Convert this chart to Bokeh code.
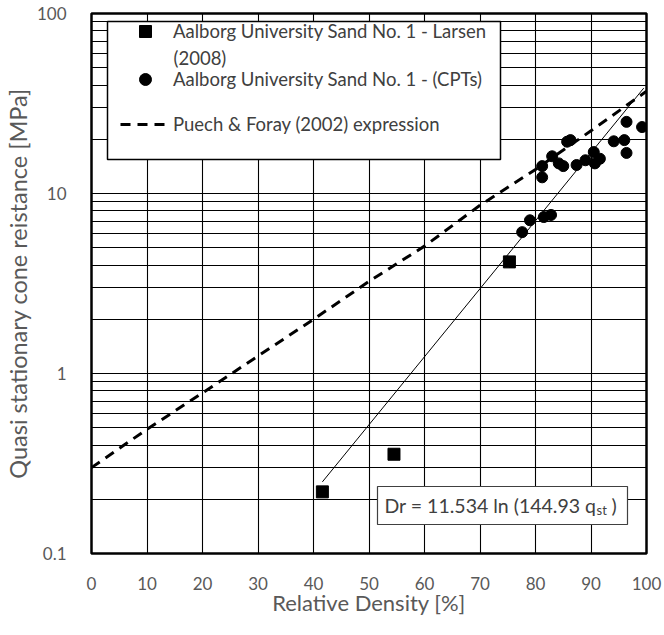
from bokeh.plotting import figure
from bokeh.models import Range1d, FixedTicker, Legend, LegendItem, Label, BoxAnnotation
from bokeh.embed import file_html
from bokeh.resources import INLINE

# ---- data ----
larsen_dr = [41.6, 54.5, 75.3]
larsen_qst = [0.22, 0.356, 4.17]

cpt_dr = [77.6, 79.0, 81.5, 82.8, 81.2, 81.2, 83.0, 84.2, 85.0, 85.7, 86.3,
          87.4, 89.0, 90.5, 90.7, 91.6, 94.1, 96.0, 96.4, 96.4, 99.2]
cpt_qst = [6.1, 7.1, 7.4, 7.6, 12.3, 14.2, 16.1, 14.7, 14.2, 19.4, 19.8,
           14.4, 15.3, 17.0, 14.7, 15.6, 19.5, 19.8, 25.0, 16.8, 23.4]

puech_dr = [0, 10, 20, 30, 40, 50, 60, 70, 80, 90, 100]
puech_qst = [0.30, 0.49, 0.78, 1.25, 2.0, 3.25, 5.1, 8.6, 13.6, 22.3, 37.0]

trend_dr = [41.6, 99.5]
trend_qst = [0.25, 38.5]

x_ticks = [0, 10, 20, 30, 40, 50, 60, 70, 80, 90, 100]
y_ticks = [0.1, 1, 10, 100]
y_tick_labels = ["0.1", "1", "10", "100"]

label_larsen = "Aalborg University Sand No. 1 - Larsen"
label_larsen2 = "(2008)"
label_cpt = "Aalborg University Sand No. 1 - (CPTs)"
label_puech = "Puech & Foray (2002) expression"
eq_main = "Dr = 11.534 ln (144.93 q"
eq_sub = "st"
eq_end = ")"

FONT = "Lato"
TICK_COLOR = "#595959"
TEXT_COLOR = "#404040"

W, H = 664, 635
FL, FR, FT, FB = 91, 646, 13, 553  # frame edges in canvas px

p = figure(width=W, height=H, y_axis_type="log", output_backend="svg",
           toolbar_location=None,
           x_range=Range1d(0, 100), y_range=Range1d(0.1, 100),
           min_border_left=FL, min_border_right=W - FR,
           min_border_top=FT, min_border_bottom=H - FB)
p.background_fill_color = "white"
p.border_fill_color = "white"
p.outline_line_color = "black"
p.outline_line_width = 2.5

# grids
minor_y = [k * 10.0 ** d for d in (-1, 0, 1) for k in range(1, 10)] + [100]
p.xgrid.ticker = FixedTicker(ticks=x_ticks)
p.ygrid.ticker = FixedTicker(ticks=minor_y)
for g in (p.xgrid, p.ygrid):
    g.grid_line_color = "black"
    g.grid_line_width = 1.1
    g.grid_line_alpha = 1

# axes
p.xaxis.ticker = FixedTicker(ticks=x_ticks)
p.yaxis.ticker = FixedTicker(ticks=y_ticks)
p.yaxis.major_label_overrides = {t: s for t, s in zip(y_ticks, y_tick_labels)}
for ax in (p.xaxis, p.yaxis):
    ax.axis_line_color = None
    ax.major_tick_line_color = None
    ax.minor_tick_line_color = None
    ax.major_label_text_font = FONT
    ax.major_label_text_font_size = "17px"
    ax.major_label_text_color = TICK_COLOR
    ax.axis_label_text_font = FONT
    ax.axis_label_text_font_style = "normal"
    ax.axis_label_text_color = TICK_COLOR
p.xaxis.axis_label_text_font_size = "22px"
p.yaxis.axis_label_text_font_size = "23.5px"
p.xaxis.major_label_standoff = 17
p.yaxis.major_label_standoff = 19
p.xaxis.axis_label = "Relative Density [%]"
p.yaxis.axis_label = "Quasi stationary cone reistance [MPa]"
p.xaxis.axis_label_standoff = -4
p.yaxis.axis_label_standoff = 2

# data
r_dash = p.line(puech_dr, puech_qst, line_color="black", line_width=3, line_dash="10 7")
r_trend = p.line(trend_dr, trend_qst, line_color="black", line_width=1)
r_sq = p.scatter(larsen_dr, larsen_qst, marker="square", size=12, color="black")
r_ci = p.scatter(cpt_dr, cpt_qst, marker="circle", size=11, color="black")

# legend box (screen units relative to frame, y from bottom)
box = BoxAnnotation(left=107 - FL, right=500 - FL, bottom=FB - 159, top=FB - 21,
                    left_units="screen", right_units="screen",
                    top_units="screen", bottom_units="screen",
                    fill_color="white", fill_alpha=1, line_color="black",
                    line_width=1.5, line_alpha=1)
p.add_layout(box)


def add_item(label, rend, x, y, gw, gh, standoff):
    leg = Legend(items=[LegendItem(label=label, renderers=[rend])], location=(x, y),
                 border_line_color=None, background_fill_alpha=0,
                 padding=0, margin=0, spacing=0,
                 glyph_width=gw, glyph_height=gh, label_height=gh,
                 label_standoff=standoff, label_text_font=FONT,
                 label_text_font_size="18.5px", label_text_color=TEXT_COLOR)
    p.add_layout(leg)


add_item(label_larsen, r_sq, 130 - FL, FB - 46, 30, 30, 13)
add_item(label_cpt, r_ci, 130 - FL, FB - 94, 30, 30, 13)
add_item(label_puech, r_dash, 120 - FL, FB - 139, 50, 30, 3)

p.add_layout(Label(x=173 - FL, y=FB - 57, x_units="screen", y_units="screen",
                   text=label_larsen2, text_font=FONT, text_font_size="18.5px",
                   text_color=TEXT_COLOR, text_baseline="middle", text_align="left"))

# equation box
eqbox = BoxAnnotation(left=377 - FL, right=627 - FL, bottom=FB - 524, top=FB - 486,
                      left_units="screen", right_units="screen",
                      top_units="screen", bottom_units="screen",
                      fill_color="white", fill_alpha=1, line_color="#404040",
                      line_width=1.2, line_alpha=1)
p.add_layout(eqbox)
p.add_layout(Label(x=384 - FL, y=FB - 505, x_units="screen", y_units="screen",
                   text=eq_main, text_font=FONT, text_font_size="19.5px",
                   text_color=TEXT_COLOR, text_baseline="middle", text_align="left"))
p.add_layout(Label(x=596 - FL, y=FB - 509, x_units="screen", y_units="screen",
                   text=eq_sub, text_font=FONT, text_font_size="13px",
                   text_color=TEXT_COLOR, text_baseline="middle", text_align="left"))
p.add_layout(Label(x=611 - FL, y=FB - 505, x_units="screen", y_units="screen",
                   text=eq_end, text_font=FONT, text_font_size="19.5px",
                   text_color=TEXT_COLOR, text_baseline="middle", text_align="left"))

open("out.html", "w").write(file_html(p, INLINE))
